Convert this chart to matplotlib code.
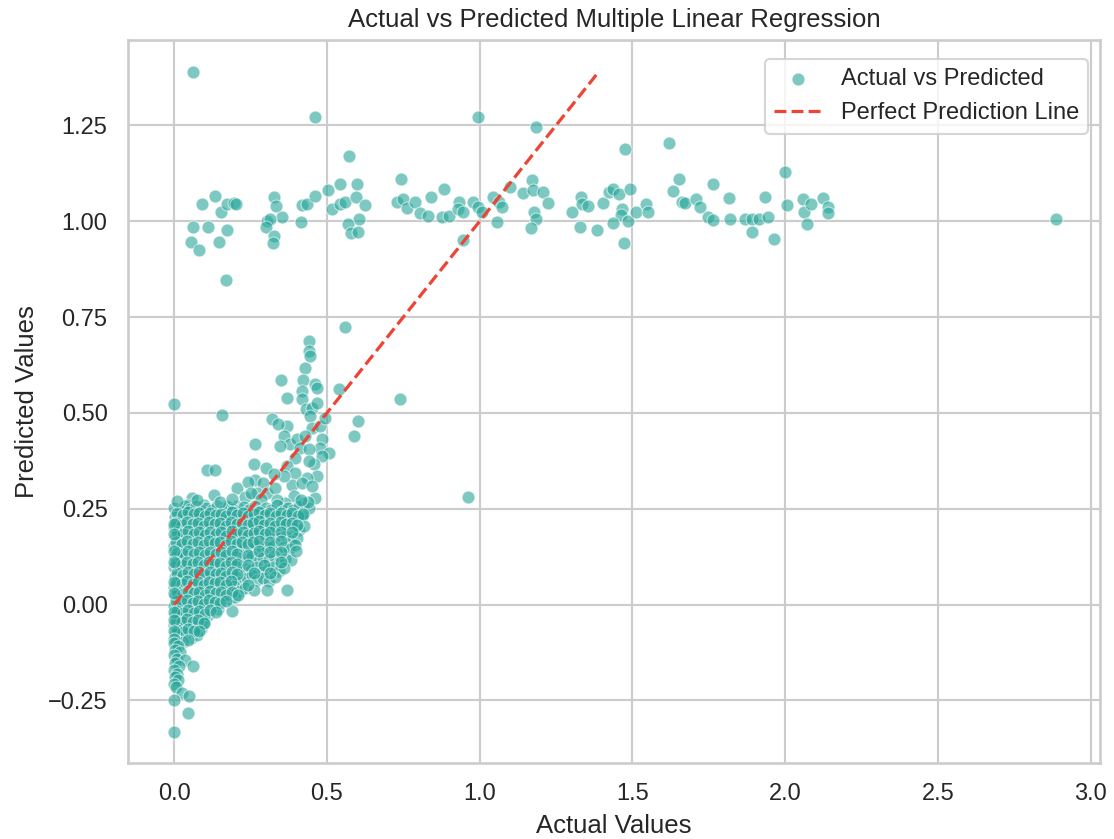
import numpy as np
import matplotlib
matplotlib.use('Agg')
import matplotlib.pyplot as plt
import seaborn as sns

sns.set_theme(style='whitegrid')
plt.rcParams['font.family'] = ['Liberation Sans', 'DejaVu Sans']

# upper band: predictions stuck around 1.0
band_points = [
    (0.061, 1.388), (0.462, 1.273), (0.994, 1.273), (1.183, 1.245), (0.573, 1.171), (0.742, 1.110),
    (0.092, 1.044), (0.132, 1.065), (0.153, 1.023), (0.172, 1.044), (0.194, 1.047), (0.201, 1.044),
    (0.060, 0.986), (0.111, 0.986), (0.173, 0.977), (0.055, 0.946), (0.081, 0.925), (0.147, 0.946),
    (0.169, 0.847), (0.327, 1.062), (0.333, 1.040), (0.352, 1.011), (0.303, 1.001), (0.314, 1.005),
    (0.300, 0.986), (0.327, 0.962), (0.322, 0.942), (0.415, 0.998), (0.418, 1.042), (0.434, 1.046),
    (0.462, 1.066), (0.502, 1.082), (0.542, 1.097), (0.516, 1.031), (0.543, 1.044), (0.560, 1.049),
    (0.599, 1.097), (0.595, 1.064), (0.625, 1.043), (0.604, 1.007), (0.568, 0.992), (0.578, 0.968),
    (0.601, 0.973), (0.729, 1.049), (0.749, 1.057), (0.762, 1.034), (0.789, 1.051), (0.805, 1.021),
    (0.830, 1.014), (0.840, 1.064), (0.882, 1.084), (0.876, 1.010), (0.901, 1.014), (0.933, 1.049),
    (0.929, 1.031), (0.945, 1.023), (0.979, 1.051), (0.994, 1.036), (1.007, 1.023), (0.944, 0.950),
    (1.045, 1.062), (1.062, 1.049), (1.073, 1.036), (1.098, 1.090), (1.056, 0.998), (1.143, 1.073),
    (1.171, 1.107), (1.173, 1.082), (1.206, 1.077), (1.225, 1.048), (1.178, 1.024), (1.185, 1.005),
    (1.169, 0.982), (1.302, 1.023), (1.332, 1.064), (1.335, 1.044), (1.356, 1.040), (1.328, 0.986),
    (1.384, 0.977), (1.405, 1.047), (1.422, 1.077), (1.436, 1.084), (1.457, 1.072), (1.493, 1.084),
    (1.476, 1.188), (1.620, 1.203), (1.465, 1.033), (1.462, 1.016), (1.487, 1.001), (1.438, 0.995),
    (1.471, 0.942), (1.511, 1.023), (1.544, 1.044), (1.551, 1.023), (1.651, 1.110), (1.634, 1.079),
    (1.662, 1.051), (1.673, 1.047), (1.709, 1.057), (1.722, 1.036), (1.749, 1.011), (1.765, 1.003),
    (1.765, 1.097), (1.815, 1.060), (1.820, 1.005), (1.869, 1.005), (1.891, 1.005), (1.913, 1.005),
    (1.945, 1.010), (1.892, 0.973), (1.934, 1.064), (1.964, 0.953), (2.001, 1.129), (2.006, 1.043),
    (2.057, 1.059), (2.062, 1.025), (2.086, 1.044), (2.072, 0.994), (2.123, 1.060), (2.140, 1.036),
    (2.140, 1.021), (2.887, 1.007),
]

# scattered points off the main cloud
outlier_points = [
    (0.558, 0.724), (0.538, 0.563), (0.738, 0.537), (-0.002, 0.524), (0.157, 0.494),
    (0.603, 0.479), (0.589, 0.441), (0.963, 0.281), (0.107, 0.352), (0.134, 0.352),
]

# diagonal arm of the cloud (pred > ~0.26)
arm_points = [
    (0.440, 0.687), (0.440, 0.661), (0.445, 0.648), (0.429, 0.618), (0.350, 0.587), (0.423, 0.585),
    (0.462, 0.576), (0.467, 0.566), (0.369, 0.540), (0.418, 0.557), (0.418, 0.535), (0.432, 0.509),
    (0.451, 0.514), (0.467, 0.527), (0.445, 0.492), (0.451, 0.461), (0.478, 0.466), (0.494, 0.487),
    (0.483, 0.431), (0.478, 0.409), (0.505, 0.396), (0.483, 0.387), (0.456, 0.366), (0.467, 0.335),
    (0.462, 0.278), (0.369, 0.466), (0.358, 0.439), (0.380, 0.418), (0.402, 0.431), (0.429, 0.439),
    (0.412, 0.409), (0.440, 0.405), (0.396, 0.383), (0.440, 0.374), (0.369, 0.361), (0.396, 0.344),
    (0.434, 0.331), (0.385, 0.313), (0.418, 0.317), (0.451, 0.309), (0.391, 0.283), (0.423, 0.265),
    (0.363, 0.265), (0.320, 0.483), (0.341, 0.470), (0.347, 0.413), (0.265, 0.420), (0.260, 0.366),
    (0.265, 0.326), (0.292, 0.318), (0.271, 0.291), (0.303, 0.291), (0.330, 0.305), (0.358, 0.335),
    (0.336, 0.274), (0.205, 0.305), (0.129, 0.287), (0.058, 0.279), (0.042, 0.261), (0.096, 0.261),
    (0.172, 0.257), (0.205, 0.257), (0.300, 0.355), (0.325, 0.340), (0.240, 0.320), (0.230, 0.280),
    (0.250, 0.292), (0.285, 0.275),
]

# dense body of the cloud
dense_points = [
    (0.000, 0.252), (0.018, 0.245), (0.035, 0.256), (0.052, 0.248), (0.070, 0.258), (0.088, 0.244),
    (0.105, 0.253), (0.122, 0.247), (0.140, 0.258), (0.158, 0.243), (0.175, 0.254), (0.192, 0.249),
    (0.210, 0.241), (0.228, 0.255), (0.246, 0.247), (0.265, 0.257), (0.283, 0.244), (0.300, 0.252),
    (0.318, 0.246), (0.336, 0.259), (0.355, 0.243), (0.372, 0.251), (0.390, 0.246), (0.408, 0.256),
    (0.425, 0.242), (0.442, 0.253),
    (0.004, 0.228), (0.022, 0.219), (0.040, 0.231), (0.058, 0.222), (0.076, 0.226), (0.094, 0.218),
    (0.112, 0.232), (0.130, 0.221), (0.148, 0.227), (0.166, 0.217), (0.184, 0.230), (0.202, 0.223),
    (0.220, 0.229), (0.238, 0.216), (0.256, 0.226), (0.274, 0.221), (0.292, 0.231), (0.310, 0.218),
    (0.328, 0.225), (0.346, 0.232), (0.364, 0.219), (0.382, 0.227), (0.400, 0.221), (0.418, 0.230),
    (0.000, 0.203), (0.015, 0.196), (0.033, 0.207), (0.050, 0.199), (0.068, 0.193), (0.086, 0.205),
    (0.104, 0.197), (0.121, 0.208), (0.139, 0.194), (0.157, 0.202), (0.175, 0.196), (0.193, 0.206),
    (0.211, 0.199), (0.229, 0.192), (0.247, 0.204), (0.265, 0.197), (0.283, 0.207), (0.301, 0.193),
    (0.319, 0.201), (0.337, 0.196), (0.355, 0.205), (0.373, 0.192), (0.391, 0.200), (0.409, 0.195),
    (0.425, 0.205),
    (0.005, 0.178), (0.023, 0.171), (0.041, 0.182), (0.059, 0.169), (0.077, 0.176), (0.095, 0.183),
    (0.113, 0.170), (0.131, 0.177), (0.149, 0.168), (0.167, 0.181), (0.185, 0.173), (0.203, 0.179),
    (0.221, 0.167), (0.239, 0.175), (0.257, 0.183), (0.275, 0.170), (0.293, 0.177), (0.311, 0.168),
    (0.329, 0.180), (0.347, 0.173), (0.365, 0.178), (0.383, 0.166), (0.401, 0.174),
    (0.000, 0.152), (0.017, 0.145), (0.035, 0.156), (0.053, 0.148), (0.071, 0.141), (0.089, 0.154),
    (0.107, 0.147), (0.125, 0.157), (0.143, 0.143), (0.161, 0.151), (0.179, 0.146), (0.197, 0.155),
    (0.215, 0.142), (0.233, 0.150), (0.251, 0.145), (0.269, 0.156), (0.287, 0.141), (0.305, 0.149),
    (0.323, 0.154), (0.341, 0.143), (0.359, 0.151), (0.377, 0.146), (0.395, 0.155),
    (0.004, 0.124), (0.022, 0.118), (0.040, 0.127), (0.058, 0.115), (0.076, 0.122), (0.094, 0.113),
    (0.112, 0.126), (0.130, 0.119), (0.148, 0.114), (0.166, 0.125), (0.184, 0.117), (0.202, 0.123),
    (0.220, 0.112), (0.238, 0.120), (0.256, 0.127), (0.274, 0.114), (0.292, 0.121), (0.310, 0.116),
    (0.328, 0.126), (0.346, 0.113), (0.364, 0.120), (0.382, 0.115),
    (0.000, 0.098), (0.018, 0.091), (0.036, 0.102), (0.054, 0.094), (0.072, 0.088), (0.090, 0.099),
    (0.108, 0.092), (0.126, 0.101), (0.144, 0.087), (0.162, 0.096), (0.180, 0.090), (0.198, 0.100),
    (0.216, 0.086), (0.234, 0.094), (0.252, 0.089), (0.270, 0.099), (0.288, 0.085), (0.306, 0.093),
    (0.324, 0.098), (0.342, 0.087), (0.360, 0.095),
    (0.004, 0.072), (0.022, 0.066), (0.040, 0.075), (0.058, 0.063), (0.076, 0.070), (0.094, 0.061),
    (0.112, 0.074), (0.130, 0.067), (0.148, 0.062), (0.166, 0.073), (0.184, 0.065), (0.202, 0.071),
    (0.220, 0.060), (0.238, 0.068), (0.254, 0.076), (0.272, 0.064), (0.290, 0.070), (0.310, 0.062),
    (0.330, 0.072),
    (0.000, 0.047), (0.016, 0.040), (0.034, 0.050), (0.052, 0.043), (0.070, 0.036), (0.088, 0.048),
    (0.106, 0.041), (0.124, 0.051), (0.142, 0.037), (0.160, 0.045), (0.178, 0.039), (0.196, 0.049),
    (0.214, 0.035), (0.232, 0.044), (0.260, 0.038), (0.303, 0.039), (0.369, 0.039),
    (0.004, 0.022), (0.020, 0.016), (0.038, 0.025), (0.056, 0.013), (0.074, 0.020), (0.092, 0.011),
    (0.110, 0.024), (0.128, 0.017), (0.146, 0.012), (0.164, 0.022), (0.182, 0.014), (0.200, 0.019),
    (0.000, -0.003), (0.016, -0.010), (0.034, 0.001), (0.052, -0.007), (0.070, -0.013), (0.088, -0.002),
    (0.106, -0.009), (0.124, 0.000), (0.142, -0.012), (0.189, -0.017),
    (0.004, -0.028), (0.020, -0.035), (0.038, -0.025), (0.056, -0.037), (0.074, -0.030), (0.092, -0.040),
    (0.110, -0.027),
    (0.000, -0.053), (0.016, -0.060), (0.034, -0.050), (0.052, -0.062), (0.070, -0.055), (0.088, -0.065),
    (0.098, -0.048),
    (0.004, -0.078), (0.020, -0.085), (0.038, -0.075), (0.056, -0.088), (0.074, -0.080),
]

# second, interleaved layer of the dense body (thinner towards the lower right)
dense_points_2 = [
    (0.009, 0.238), (0.027, 0.233), (0.045, 0.241), (0.063, 0.235), (0.081, 0.239), (0.099, 0.231),
    (0.117, 0.240), (0.135, 0.234), (0.153, 0.237), (0.171, 0.230), (0.189, 0.241), (0.207, 0.233),
    (0.225, 0.239), (0.243, 0.231), (0.261, 0.236), (0.279, 0.242), (0.297, 0.233), (0.315, 0.238),
    (0.333, 0.230), (0.351, 0.240), (0.369, 0.234), (0.387, 0.238), (0.405, 0.232), (0.423, 0.237),
    (0.438, 0.268), (0.415, 0.272), (0.010, 0.270), (0.075, 0.272), (0.150, 0.268), (0.190, 0.275),
    (0.007, 0.212), (0.025, 0.208), (0.043, 0.216), (0.061, 0.209), (0.079, 0.214), (0.097, 0.206),
    (0.115, 0.215), (0.133, 0.210), (0.151, 0.213), (0.169, 0.205), (0.187, 0.216), (0.205, 0.209),
    (0.223, 0.214), (0.241, 0.207), (0.259, 0.212), (0.277, 0.217), (0.295, 0.208), (0.313, 0.213),
    (0.331, 0.206), (0.349, 0.215), (0.367, 0.209), (0.385, 0.213), (0.403, 0.207),
    (0.009, 0.188), (0.027, 0.183), (0.045, 0.191), (0.063, 0.184), (0.081, 0.189), (0.099, 0.181),
    (0.117, 0.190), (0.135, 0.185), (0.153, 0.188), (0.171, 0.180), (0.189, 0.191), (0.207, 0.184),
    (0.225, 0.189), (0.243, 0.182), (0.261, 0.187), (0.279, 0.192), (0.297, 0.183), (0.315, 0.188),
    (0.351, 0.190), (0.387, 0.188),
    (0.007, 0.162), (0.025, 0.158), (0.043, 0.166), (0.061, 0.159), (0.079, 0.164), (0.097, 0.156),
    (0.115, 0.165), (0.133, 0.160), (0.151, 0.163), (0.169, 0.155), (0.187, 0.166), (0.205, 0.159),
    (0.223, 0.164), (0.241, 0.157), (0.259, 0.162), (0.277, 0.167), (0.313, 0.163), (0.349, 0.165),
    (0.400, 0.140),
    (0.009, 0.135), (0.027, 0.131), (0.045, 0.139), (0.063, 0.132), (0.081, 0.137), (0.099, 0.129),
    (0.117, 0.138), (0.135, 0.133), (0.153, 0.136), (0.171, 0.128), (0.189, 0.139), (0.207, 0.132),
    (0.243, 0.130), (0.279, 0.140), (0.315, 0.136), (0.351, 0.138),
    (0.007, 0.108), (0.025, 0.104), (0.043, 0.112), (0.061, 0.105), (0.079, 0.110), (0.097, 0.102),
    (0.115, 0.111), (0.133, 0.106), (0.151, 0.109), (0.169, 0.101), (0.187, 0.112), (0.205, 0.105),
    (0.241, 0.103), (0.295, 0.104), (0.349, 0.111),
    (0.009, 0.082), (0.027, 0.078), (0.045, 0.086), (0.063, 0.079), (0.081, 0.084), (0.099, 0.076),
    (0.117, 0.085), (0.135, 0.080), (0.153, 0.083), (0.171, 0.075), (0.189, 0.086), (0.207, 0.079),
    (0.261, 0.082), (0.315, 0.083),
    (0.007, 0.057), (0.025, 0.053), (0.043, 0.061), (0.061, 0.054), (0.079, 0.059), (0.097, 0.051),
    (0.115, 0.060), (0.133, 0.055), (0.151, 0.058), (0.169, 0.050), (0.187, 0.061), (0.241, 0.052),
    (0.009, 0.032), (0.027, 0.028), (0.045, 0.036), (0.063, 0.029), (0.081, 0.034), (0.099, 0.026),
    (0.117, 0.035), (0.135, 0.030), (0.153, 0.033), (0.171, 0.025), (0.189, 0.032), (0.210, 0.026),
    (0.007, 0.008), (0.025, 0.004), (0.043, 0.012), (0.061, 0.005), (0.079, 0.010), (0.097, 0.002),
    (0.115, 0.011), (0.133, 0.006), (0.151, 0.003), (0.170, 0.009),
    (0.009, -0.018), (0.027, -0.022), (0.045, -0.014), (0.063, -0.021), (0.081, -0.016), (0.099, -0.024),
    (0.117, -0.015), (0.135, -0.020),
    (0.007, -0.042), (0.025, -0.046), (0.043, -0.038), (0.061, -0.045), (0.079, -0.040), (0.097, -0.047),
    (0.009, -0.067), (0.027, -0.071), (0.045, -0.063), (0.063, -0.070), (0.081, -0.068),
    (0.010, -0.095), (0.030, -0.098), (0.045, -0.092),
]

# column of points at actual ~ 0
zero_column = [
    (0.000, 0.210), (0.000, 0.185), (0.000, 0.140), (0.000, 0.110), (0.000, 0.060), (0.000, 0.030),
    (0.000, -0.020), (0.000, -0.040), (0.000, -0.068), (0.000, -0.090),
    (0.000, -0.100), (0.012, -0.108), (0.003, -0.118), (0.020, -0.124), (0.000, -0.132), (0.010, -0.142),
    (0.036, -0.144), (0.061, -0.161), (0.002, -0.152), (0.015, -0.160), (0.000, -0.170), (0.008, -0.180),
    (0.002, -0.190), (0.012, -0.198), (0.000, -0.207), (0.006, -0.215), (0.025, -0.231), (0.047, -0.239),
    (0.000, -0.250), (0.045, -0.283), (-0.002, -0.333),
]

all_points = np.array(band_points + outlier_points + arm_points + dense_points
                      + dense_points_2 + zero_column)
y_test = all_points[:, 0]
y_pred = all_points[:, 1]

line_start = 0.0
line_end = 1.385

dpi = 154.5
fig = plt.figure(figsize=(1114 / dpi, 839 / dpi), dpi=dpi)
ax = fig.add_axes([128 / 1114, 1 - 763 / 839, (1100 - 128) / 1114, (763 - 40) / 839])

ax.scatter(y_test, y_pred, color='#26a69a', alpha=0.6, s=36, edgecolor='white', linewidth=0.5,
           label='Actual vs Predicted', zorder=2)
ax.plot([line_start, line_end], [line_start, line_end], color='#ec4536', linestyle='--', lw=1.5,
        label='Perfect Prediction Line', zorder=3)

ax.set_xlim(-0.1515, 3.031)
ax.set_ylim(-0.4133, 1.4727)

ax.set_title('Actual vs Predicted Multiple Linear Regression')
ax.set_xlabel('Actual Values')
ax.set_ylabel('Predicted Values')
ax.legend(loc='upper right', bbox_to_anchor=(1.0, 0.99))

fig.savefig('out.png', dpi=dpi)
